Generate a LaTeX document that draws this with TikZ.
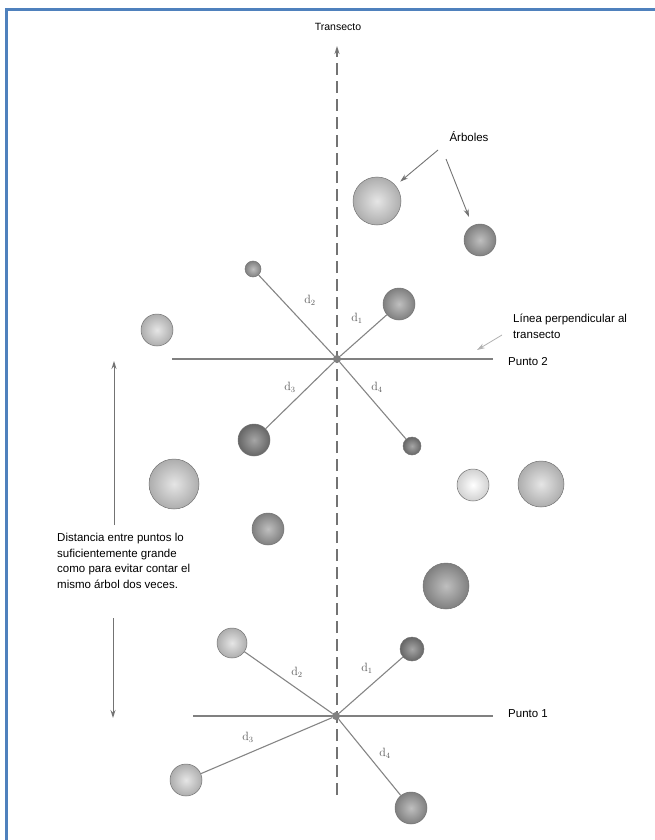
\documentclass[tikz,border=0pt]{standalone}
\usepackage[no-math]{fontspec}
\setmainfont{Liberation Sans}
\usetikzlibrary{arrows.meta}
\definecolor{frameblue}{RGB}{79,129,189}
\tikzset{
  tree/.style={circle,inner sep=0pt,minimum size=#1,draw=black!55,line width=0.5pt,shading=radial},
  light/.style={inner color=black!10,outer color=black!32},
  mid/.style={inner color=black!25,outer color=black!50},
  dark/.style={inner color=black!35,outer color=black!60},
  ctr/.style={circle,inner sep=0pt,minimum size=8pt,fill=black!50},
  dline/.style={draw=black!48,line width=1.1pt},
  hline/.style={draw=black!50,line width=1.1pt},
  lbl/.style={font=\fontsize{11.5}{15.5}\selectfont,inner sep=0pt,align=left},
  dlbl/.style={text=black!65,inner sep=0pt,font=\large}
}
\begin{document}
\begin{tikzpicture}[x=1pt,y=-1pt,>={Stealth[length=8pt,width=5pt]}]
  \useasboundingbox (0,0) rectangle (655,840);
  \draw[frameblue,line width=3pt] (6,840) -- (6,10) -- (655,10); % frame

  % transect
  \node[font=\fontsize{10.5}{12}\selectfont] (trans) at (338,27) {Transecto};
  \coordinate (ttop) at (337,46);
  \coordinate (tbot) at (337,795);
  \draw[->,black!55,line width=1.2pt,dash pattern=on 12pt off 6pt] (tbot) -- (ttop);

  % trees near point 2
  \node[tree=48pt,light] (tA) at (377,201) {};
  \node[tree=32pt,mid] (tB) at (480,240) {};
  \node[tree=32pt,light] (tL) at (157,330) {};
  \node[tree=16pt,mid] (t22) at (253,269) {};
  \node[tree=32pt,mid] (t21) at (399,304) {};
  \node[tree=32pt,dark] (t23) at (254,440) {};
  \node[tree=18pt,dark] (t24) at (412,446) {};

  % trees in between
  \node[tree=50pt,light] at (174,484) {};
  \node[tree=32pt,mid] at (268,529) {};
  \node[tree=32pt,light,inner color=white,outer color=black!18] at (473,485) {};
  \node[tree=46pt,light] at (541,484) {};
  \node[tree=46pt,mid] at (446,586) {};

  % trees near point 1
  \node[tree=30pt,light] (t12) at (232,643) {};
  \node[tree=24pt,dark] (t11) at (412,649) {};
  \node[tree=32pt,light] (t13) at (186,780) {};
  \node[tree=32pt,mid] (t14) at (411,808) {};

  % point 2
  \coordinate (p2w) at (172,359);
  \coordinate (p2e) at (493,359);
  \draw[hline] (p2w) -- (p2e);
  \node[ctr] (p2) at (337,359) {};
  \foreach \t in {t21,t22,t23,t24} \draw[dline] (p2) -- (\t);
  \node[dlbl] at (357,318) {$\mathrm{d}_1$};
  \node[dlbl] at (310,300) {$\mathrm{d}_2$};
  \node[dlbl] at (290,387) {$\mathrm{d}_3$};
  \node[dlbl] at (377,387) {$\mathrm{d}_4$};
  \node[lbl,anchor=west] (pt2) at (508,362) {Punto 2};

  % point 1
  \coordinate (p1w) at (193,716);
  \coordinate (p1e) at (493,716);
  \draw[hline] (p1w) -- (p1e);
  \node[ctr] (p1) at (336,716) {};
  \foreach \t in {t11,t12,t13,t14} \draw[dline] (p1) -- (\t);
  \node[dlbl] at (367,668) {$\mathrm{d}_1$};
  \node[dlbl] at (297,672) {$\mathrm{d}_2$};
  \node[dlbl] at (248,737) {$\mathrm{d}_3$};
  \node[dlbl] at (385,753) {$\mathrm{d}_4$};
  \node[lbl,anchor=west] (pt1) at (508,714) {Punto 1};

  % labels with arrows
  \node[lbl] (arb) at (469,137) {Árboles};
  \coordinate (a1) at (438,150);
  \coordinate (a2) at (446,159);
  \draw[->,black!55,line width=0.9pt,shorten >=6pt] (a1) -- (tA);
  \draw[->,black!55,line width=0.9pt] (a2) -- (469,217);

  \node[lbl,anchor=north west] (perp) at (513,314) {Línea perpendicular al\\transecto};
  \coordinate (pa) at (502,335);
  \coordinate (pb) at (477,350);
  \draw[->,black!30,line width=0.8pt] (pa) -- (pb);

  % spacing between points
  \node[lbl,anchor=north west] (dist) at (57,533) {Distancia entre puntos lo\\suficientemente grande\\como para evitar contar el\\mismo árbol dos veces.};
  \coordinate (dtop) at (114,361);
  \coordinate (dbot) at (113,718);
  \draw[->,black!55,line width=1pt] (114,525) -- (dtop);
  \draw[->,black!55,line width=1pt] (113,618) -- (dbot);
\end{tikzpicture}
\end{document}
